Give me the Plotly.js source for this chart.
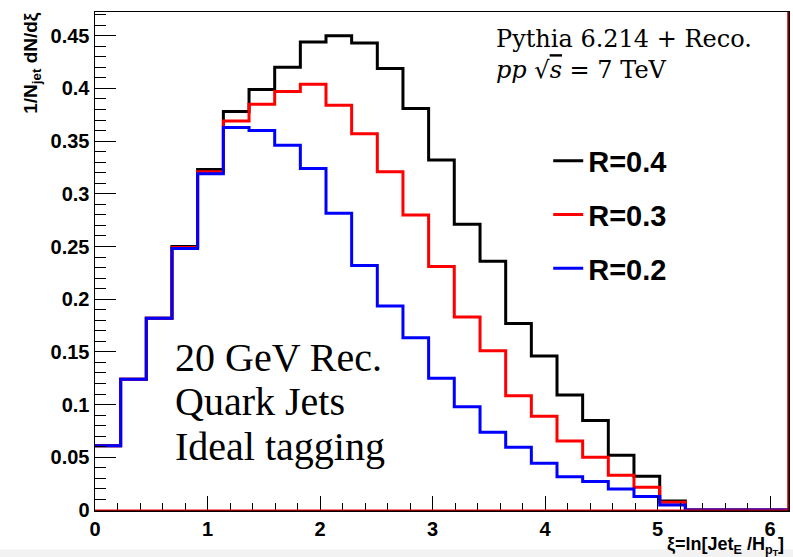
<!DOCTYPE html>
<html>
<head>
<meta charset="utf-8">
<script src="https://cdn.plot.ly/plotly-3.0.1.min.js"></script>
<style>html,body{margin:0;padding:0;background:#fff;}#chart{width:793px;height:557px;}</style>
</head>
<body>
<div id="chart"></div>
<script>
// bin edges of xi = ln[Jet_E / H_pT] (27 bins)
const binEdges = [0, 0.228, 0.456, 0.684, 0.912, 1.141, 1.369, 1.597, 1.825, 2.053, 2.281, 2.509, 2.737, 2.965,
  3.193, 3.422, 3.650, 3.878, 4.106, 4.334, 4.562, 4.790, 5.019, 5.247, 5.475, 5.703, 5.931, 6.159];

const seriesNames = ["R=0.4", "R=0.3", "R=0.2"];

const valsR04 = [0.061, 0.124, 0.182, 0.250, 0.323, 0.378, 0.399, 0.420, 0.444, 0.450, 0.443, 0.419, 0.381, 0.332,
  0.271, 0.236, 0.177, 0.146, 0.109, 0.085, 0.052, 0.032, 0.0085, 0, 0, 0, 0];
const valsR03 = [0.061, 0.124, 0.182, 0.249, 0.321, 0.369, 0.385, 0.397, 0.404, 0.384, 0.357, 0.321, 0.280, 0.231,
  0.183, 0.151, 0.1085, 0.089, 0.0655, 0.050, 0.033, 0.0215, 0.0073, 0, 0, 0, 0];
const valsR02 = [0.061, 0.124, 0.182, 0.248, 0.319, 0.363, 0.360, 0.346, 0.324, 0.2816, 0.232, 0.1936, 0.1635, 0.125,
  0.098, 0.0737, 0.0595, 0.0443, 0.0316, 0.027, 0.020, 0.0127, 0.0047, 0, 0, 0, 0];

const yTickVals = [0, 0.05, 0.1, 0.15, 0.2, 0.25, 0.3, 0.35, 0.4, 0.45];
const yTickText = ["0", "0.05", "0.1", "0.15", "0.2", "0.25", "0.3", "0.35", "0.4", "0.45"];
const xTickVals = [0, 1, 2, 3, 4, 5, 6];
const xTickText = ["0", "1", "2", "3", "4", "5", "6"];

const infoLines = ["20 GeV Rec.", "Quark Jets", "Ideal tagging"];

const colors = ["#000000", "#ff0000", "#0000ff"];

function stepTrace(vals, name, color, grp) {
  // step histogram: each bin value held from its left edge to the next edge
  const y = vals.concat([vals[vals.length - 1]]);
  return {
    x: binEdges, y: y, name: name, type: "scatter", mode: "lines",
    line: {shape: "hv", color: color, width: 3},
    legendgroup: grp, hoverinfo: "x+y"
  };
}

const data = [
  stepTrace(valsR04, seriesNames[0], colors[0], "a"),
  stepTrace(valsR03, seriesNames[1], colors[1], "b"),
  stepTrace(valsR02, seriesNames[2], colors[2], "c")
];

const bold = arr => arr.map(t => "<b>" + t + "</b>");
const tickFont = {family: "Liberation Sans, Arial, sans-serif", size: 20, color: "#000", weight: 700};

const infoTops = [0.356, 0.268, 0.176];
const infoAnns = infoLines.map((t, i) => ({
  xref: "paper", yref: "paper", x: 0.112, y: infoTops[i], xanchor: "left", yanchor: "top",
  showarrow: false, align: "left", text: t,
  font: {family: "Liberation Serif, Times New Roman, serif", size: 40, color: "#000"}
}));

const layout = {
  width: 793, height: 557,
  margin: {l: 95, r: 5, t: 12, b: 47, pad: 0},
  paper_bgcolor: "#ffffff", plot_bgcolor: "#ffffff",
  showlegend: true,
  legend: {
    x: 0.654, y: 0.752, xanchor: "left", yanchor: "top",
    bgcolor: "rgba(0,0,0,0)", borderwidth: 0,
    font: {family: "Liberation Sans, Arial, sans-serif", size: 29, color: "#000", weight: "bold"},
    tracegroupgap: 13, itemwidth: 30
  },
  xaxis: {
    range: [0, 6.159], showgrid: false, zeroline: false,
    showline: true, linecolor: "#000", linewidth: 1.5, mirror: true,
    ticks: "inside", ticklen: 14, tickwidth: 1, tickcolor: "#000",
    tickvals: xTickVals, ticktext: bold(xTickText),
    tickfont: tickFont,
    minor: {dtick: 0.2, tick0: 0, ticks: "inside", ticklen: 7, tickwidth: 1, tickcolor: "#000"}
  },
  yaxis: {
    range: [0, 0.4725], showgrid: false, zeroline: false,
    showline: true, linecolor: "#000", linewidth: 1.5, mirror: true,
    ticks: "inside", ticklen: 21, tickwidth: 1, tickcolor: "#000",
    tickvals: yTickVals, ticktext: bold(yTickText),
    tickfont: tickFont,
    minor: {dtick: 0.01, tick0: 0, ticks: "inside", ticklen: 11, tickwidth: 1, tickcolor: "#000"}
  },
  shapes: [
    {type: "line", xref: "paper", yref: "paper", x0: 1, x1: 1, y0: 0, y1: 1,
     line: {color: "#b00000", width: 1.5}},
    {type: "line", xref: "paper", yref: "paper", x0: 0, x1: 1, y0: 0, y1: 0,
     line: {color: "#ff0000", width: 1}},
    {type: "rect", xref: "paper", yref: "paper", x0: -0.2, x1: 1.02, y0: -0.079, y1: -0.1,
     fillcolor: "#f2f2f2", line: {width: 0}, layer: "above"}
  ],
  annotations: [
    {xref: "paper", yref: "paper", x: -0.092, y: 1.005, xanchor: "center", yanchor: "top",
     textangle: -90, showarrow: false,
     text: "<b>1/N<sub>jet</sub> dN/dξ</b>",
     font: {family: "Liberation Sans, Arial, sans-serif", size: 19, color: "#000"}},
    {xref: "paper", yref: "paper", x: 0.997, y: -0.045, xanchor: "right", yanchor: "top",
     showarrow: false,
     text: "<b>ξ=ln[Jet<sub>E</sub> /H<sub>p<sub>T</sub></sub>]</b>",
     font: {family: "Liberation Sans, Arial, sans-serif", size: 18, color: "#000"}},
    {xref: "paper", yref: "paper", x: 0.576, y: 0.978, xanchor: "left", yanchor: "top",
     showarrow: false, align: "left",
     text: "Pythia 6.214 + Reco.<br><i>pp</i> √<span style=\"text-decoration:overline\"><i>s</i></span> = 7 TeV",
     font: {family: "DejaVu Serif, serif", size: 24, color: "#000"}}
  ].concat(infoAnns)
};

Plotly.newPlot("chart", data, layout, {staticPlot: true, displayModeBar: false});
</script>
</body>
</html>
